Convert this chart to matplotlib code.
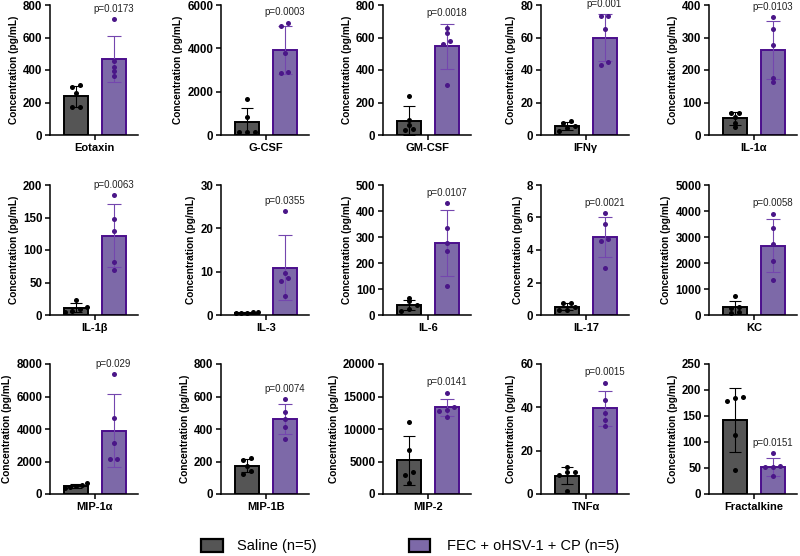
import matplotlib
matplotlib.use("Agg")
import matplotlib.pyplot as plt
from matplotlib.patches import Rectangle
import numpy as np

plt.rcParams['font.family'] = ['Liberation Sans', 'DejaVu Sans']

names = ["Eotaxin", "G-CSF", "GM-CSF", "IFNγ", "IL-1α",
         "IL-1β", "IL-3", "IL-6", "IL-17", "KC",
         "MIP-1α", "MIP-1B", "MIP-2", "TNFα", "Fractalkine"]
ymax = [800, 6000, 800, 80, 400, 200, 30, 500, 8, 5000, 8000, 800, 20000, 60, 250]
ystep = [200, 2000, 200, 20, 100, 50, 10, 100, 2, 1000, 2000, 200, 5000, 20, 50]
pvals = ["p=0.0173", "p=0.0003", "p=0.0018", "p=0.001", "p=0.0103",
         "p=0.0063", "p=0.0355", "p=0.0107", "p=0.0021", "p=0.0058",
         "p=0.029", "p=0.0074", "p=0.0141", "p=0.0015", "p=0.0151"]

saline_mean = [239, 577, 88, 5.7, 51, 11.2, 0.5, 39, 0.5, 295, 520, 175, 5180, 8.4, 142]
saline_sd = [64, 686, 88, 2.4, 19, 7, 0.1, 20, 0.22, 258, 125, 40, 3750, 4.0, 61]
fec_mean = [470, 3930, 546, 60, 261, 122, 10.9, 277, 4.8, 2660, 3900, 460, 13330, 39.6, 52]
fec_sd = [141, 1120, 139, 14.2, 90, 48, 7.5, 126, 1.25, 1020, 2230, 93, 1290, 8.0, 17]

saline_pts = [
    [308, 293, 256, 170, 170],
    [1677, 846, 120, 120, 120],
    [242, 90, 60, 35, 30],
    [8.6, 7.6, 5.5, 4.1, 2.5],
    [69, 69, 54, 38, 26],
    [23, 12, 10, 6, 5],
    [0.6, 0.6, 0.5, 0.4, 0.4],
    [66, 52, 38, 25, 17],
    [0.75, 0.75, 0.5, 0.3, 0.3],
    [729, 300, 280, 100, 80],
    [700, 560, 520, 430, 400],
    [220, 210, 175, 140, 125],
    [11026, 6769, 3436, 2923, 1744],
    [12.3, 10, 10, 8.8, 1.5],
    [186, 185, 179, 113, 47],
]
fec_pts = [
    [714, 457, 420, 396, 365],
    [5185, 5030, 3770, 2920, 2877],
    [660, 626, 578, 558, 308],
    [73.4, 73.4, 65, 45.1, 43.1],
    [362, 326, 277, 176, 164],
    [184, 148, 130, 81, 68.5],
    [23.9, 9.6, 8.6, 7.9, 4.5],
    [430, 333, 276, 247, 110],
    [6.28, 5.58, 4.70, 4.56, 2.92],
    [3900, 3350, 2724, 2072, 1330],
    [7385, 4656, 3159, 2154, 2133],
    [583, 507, 459, 410, 338],
    [15590, 13400, 12950, 12800, 11900],
    [51.4, 43.4, 37.5, 34.2, 31.4],
    [78, 53, 52, 51, 35],
]

groups = ["Saline (n=5)", "FEC + oHSV-1 + CP (n=5)"]

SAL_FACE = "#555555"
SAL_EDGE = "#000000"
FEC_FACE = "#7D69A8"
FEC_EDGE = "#4B0E8C"
FEC_PT = "#4A1688"
FEC_ERR = "#7446AE"

W, H = 800, 556
fig = plt.figure(figsize=(8, 5.56), dpi=100)

col_left = [50, 221, 383, 541, 709]
row_zero = [135, 315, 494]
ax_w, ax_h = 88, 130


def swarm_offsets(vals, ym, thresh_px=3.4):
    vals = np.asarray(vals, dtype=float)
    order = np.argsort(vals)
    px = vals / ym * ax_h
    offs = np.zeros(len(vals))
    clusters = []
    cur = [order[0]]
    for a, b in zip(order[:-1], order[1:]):
        if abs(px[b] - px[a]) < thresh_px:
            cur.append(b)
        else:
            clusters.append(cur)
            cur = [b]
    clusters.append(cur)
    for c in clusters:
        n = len(c)
        if n == 1:
            continue
        s = min(0.21, 0.6 / (n - 1))
        for i, idx in enumerate(c):
            offs[idx] = (i - (n - 1) / 2) * s
    return offs


for k, name in enumerate(names):
    r, c = divmod(k, 5)
    left = col_left[c] / W
    bottom = 1 - row_zero[r] / H
    ax = fig.add_axes([left, bottom, ax_w / W, ax_h / H])
    ym = ymax[k]
    ax.bar([0], [saline_mean[k]], width=0.64, color=SAL_FACE, edgecolor=SAL_EDGE,
           linewidth=1.4, zorder=2)
    ax.bar([1], [fec_mean[k]], width=0.64, color=FEC_FACE, edgecolor=FEC_EDGE,
           linewidth=1.4, zorder=2)
    ax.errorbar([0], [saline_mean[k]], yerr=[saline_sd[k]], fmt='none', ecolor='black',
                elinewidth=0.8, capsize=4.3, capthick=0.8, zorder=3)
    ax.errorbar([1], [fec_mean[k]], yerr=[fec_sd[k]], fmt='none', ecolor=FEC_ERR,
                elinewidth=0.8, capsize=4.8, capthick=0.8, zorder=3)
    so = swarm_offsets(saline_pts[k], ym)
    fo = swarm_offsets(fec_pts[k], ym)
    ax.scatter(0 + so, saline_pts[k], s=13, color='black', zorder=4, linewidths=0,
               clip_on=False)
    ax.scatter(1 + fo, fec_pts[k], s=13, color=FEC_PT, zorder=4, linewidths=0,
               clip_on=False)
    ytxt = max(max(fec_pts[k]), fec_mean[k] + fec_sd[k]) + 0.08 * ym
    ax.text(1, ytxt, pvals[k], ha='center', va='center', fontsize=7, color='#222222')

    ax.set_xlim(-0.693, 1.653)
    ax.set_ylim(0, ym)
    ax.set_yticks(np.arange(0, ym + ystep[k] / 2, ystep[k]))
    ax.set_xticks([0.5])
    ax.set_xticklabels([name], fontsize=8, fontweight='bold')
    for lab in ax.get_yticklabels():
        lab.set_fontweight('bold')
        lab.set_fontsize(8.3)
    ax.set_ylabel("Concentration (pg/mL)", fontsize=7.3, fontweight='bold', labelpad=3)
    for sp in ['top', 'right']:
        ax.spines[sp].set_visible(False)
    for sp in ['left', 'bottom']:
        ax.spines[sp].set_linewidth(1.1)
    ax.tick_params(axis='both', width=1.1, length=3.5, pad=2)
    ax.spines['left'].set_zorder(5)
    ax.spines['bottom'].set_zorder(5)

# legend
def fig_rect(x0, y0, w, h, fc):
    fig.patches.append(Rectangle((x0 / W, 1 - (y0 + h) / H), w / W, h / H,
                                 transform=fig.transFigure, facecolor=fc,
                                 edgecolor='black', linewidth=1.6))

fig_rect(201, 539, 22, 13, SAL_FACE)
fig.text(237 / W, 1 - 546 / H, groups[0], fontsize=10.5, va='center', ha='left')
fig_rect(409, 539, 21, 13, FEC_FACE)
fig.text(447 / W, 1 - 546 / H, groups[1], fontsize=10.5, va='center', ha='left')

fig.savefig("out.png", dpi=100)
